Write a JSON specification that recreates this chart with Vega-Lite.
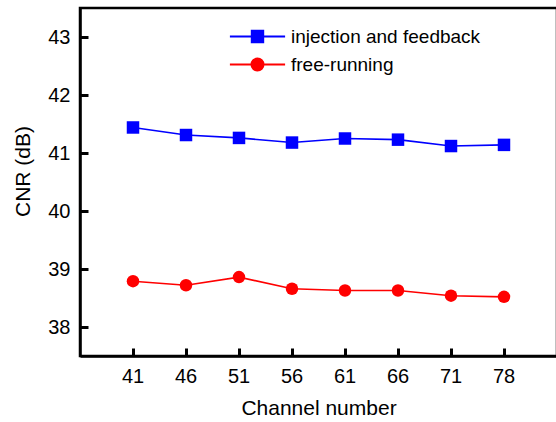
{
  "$schema": "https://vega.github.io/schema/vega-lite/v6.json",
  "autosize": {"type": "none"},
  "padding": {"left": 80, "top": 8, "right": 0, "bottom": 66},
  "width": 477,
  "height": 348,
  "config": {
    "view": {"stroke": "black", "strokeWidth": 2.5},
    "font": "Liberation Sans"
  },
  "data": {
    "values": [
      {"channel": 41, "series": "injection and feedback", "cnr": 41.44},
      {"channel": 46, "series": "injection and feedback", "cnr": 41.31},
      {"channel": 51, "series": "injection and feedback", "cnr": 41.26},
      {"channel": 56, "series": "injection and feedback", "cnr": 41.18},
      {"channel": 61, "series": "injection and feedback", "cnr": 41.25},
      {"channel": 66, "series": "injection and feedback", "cnr": 41.23},
      {"channel": 71, "series": "injection and feedback", "cnr": 41.12},
      {"channel": 78, "series": "injection and feedback", "cnr": 41.14},
      {"channel": 41, "series": "free-running", "cnr": 38.79},
      {"channel": 46, "series": "free-running", "cnr": 38.72},
      {"channel": 51, "series": "free-running", "cnr": 38.86},
      {"channel": 56, "series": "free-running", "cnr": 38.66},
      {"channel": 61, "series": "free-running", "cnr": 38.63},
      {"channel": 66, "series": "free-running", "cnr": 38.63},
      {"channel": 71, "series": "free-running", "cnr": 38.54},
      {"channel": 78, "series": "free-running", "cnr": 38.52}
    ]
  },
  "encoding": {
    "y": {
      "field": "cnr",
      "type": "quantitative",
      "scale": {"domain": [37.5, 43.5], "nice": false, "zero": false},
      "axis": {
        "title": "CNR (dB)",
        "values": [38, 39, 40, 41, 42, 43],
        "grid": false,
        "ticks": true,
        "domainColor": "#000000",
        "domainWidth": 2.5,
        "tickColor": "#000000",
        "tickWidth": 3,
        "tickSize": -8,
        "labelFontSize": 20,
        "labelColor": "#000000",
        "labelPadding": 18,
        "titleFontSize": 21,
        "titleFontWeight": "normal",
        "titleColor": "#000000",
        "titleX": -57,
        "titleY": 163,
        "titleBaseline": "middle",
        "titleAlign": "center",
        "titleAngle": -90
      }
    },
    "color": {
      "field": "series",
      "type": "nominal",
      "scale": {"domain": ["injection and feedback", "free-running"], "range": ["#0000ff", "#ff0000"]},
      "legend": {
        "title": null,
        "orient": "none",
        "legendX": 168,
        "legendY": 19,
        "padding": 0,
        "labelFontSize": 19,
        "labelColor": "black",
        "labelFont": "Liberation Sans",
        "labelLimit": 0,
        "labelOffset": 24,
        "symbolSize": 144,
        "rowPadding": 7,
        "encode": {
          "symbols": {
            "update": {
              "shape": {"signal": "datum.value === 'free-running' ? 'M-4.6,0H4.6M-1,0A1,1 0 1,0 1,0A1,1 0 1,0 -1,0Z' : 'M-4.6,0H4.6M-0.95,-0.95H0.95V0.95H-0.95Z'"},
              "fill": {"signal": "datum.value === 'free-running' ? '#ff0000' : '#0000ff'"},
              "stroke": {"signal": "datum.value === 'free-running' ? '#ff0000' : '#0000ff'"},
              "strokeWidth": {"value": 2},
              "opacity": {"value": 1}
            }
          }
        }
      }
    }
  },
  "layer": [
    {
      "mark": {"type": "line", "strokeWidth": 1.6},
      "encoding": {
        "x": {
          "field": "channel",
          "type": "ordinal",
          "scale": {"type": "band", "paddingInner": 0, "paddingOuter": 0.5},
          "axis": {
            "title": "Channel number",
            "labelAngle": 0,
            "grid": false,
            "ticks": true,
            "domainColor": "#000000",
            "domainWidth": 2.5,
            "tickColor": "#000000",
            "tickWidth": 3,
            "tickSize": -8,
            "labelFontSize": 20,
            "labelColor": "#000000",
            "labelPadding": 18,
            "titleFontSize": 21,
            "titleFontWeight": "normal",
            "titleColor": "#000000",
            "titleY": 52,
            "titleBaseline": "middle"
          }
        }
      }
    },
    {
      "transform": [{"filter": "datum.series === 'injection and feedback'"}],
      "mark": {"type": "point", "filled": true, "size": 156, "opacity": 1, "shape": "square"},
      "encoding": {
        "x": {
          "field": "channel",
          "type": "ordinal",
          "scale": {"type": "band", "paddingInner": 0, "paddingOuter": 0.5}
        }
      }
    },
    {
      "transform": [{"filter": "datum.series === 'free-running'"}],
      "mark": {"type": "point", "filled": true, "size": 156, "opacity": 1, "shape": "circle"},
      "encoding": {
        "x": {
          "field": "channel",
          "type": "ordinal",
          "scale": {"type": "band", "paddingInner": 0, "paddingOuter": 0.5}
        }
      }
    }
  ]
}
